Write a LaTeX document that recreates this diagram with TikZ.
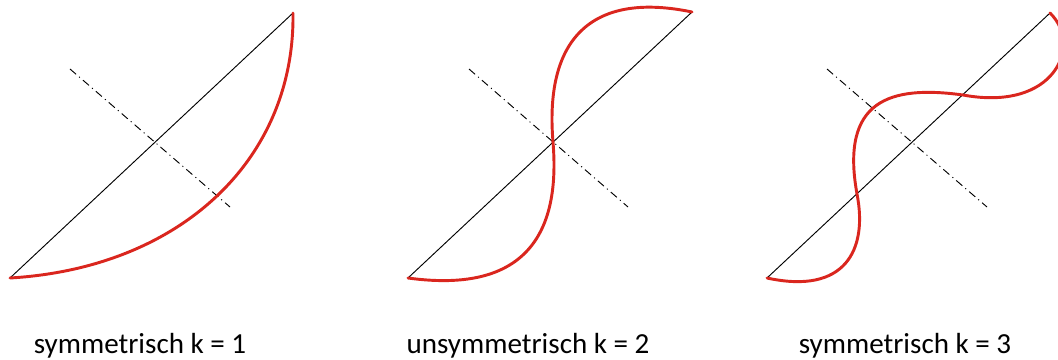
\documentclass[tikz,border=0pt]{standalone}
\usepackage{fontspec}
\setmainfont{Carlito}
\definecolor{curvered}{RGB}{218,38,30}
\begin{document}
\begin{tikzpicture}[x=0.75pt,y=-0.75pt,
  chord/.style={black,line width=0.7pt},
  axisline/.style={black,line width=0.7pt,dash pattern=on 6pt off 3pt on 0.8pt off 3pt},
  redcurve/.style={curvered,line width=2.2pt,line cap=round,line join=round},
  caption/.style={anchor=base,inner sep=0pt,font=\fontsize{21.8}{26}\selectfont}]
\clip (0,0) rectangle (1058,360);
% panel 1
\coordinate (a1) at (10,278); \coordinate (b1) at (293,13);
\coordinate (p1) at (70,69);  \coordinate (q1) at (230,207);
\draw[chord] (a1) -- (b1);
\draw[axisline] (p1) -- (q1);
\draw[redcurve] (a1) .. controls (180,268) and (295,160) .. (b1);
% panel 2
\coordinate (a2) at (408,278); \coordinate (b2) at (692,12);
\coordinate (p2) at (469,69);  \coordinate (q2) at (628,207);
\coordinate (m2) at (553,142);
\draw[chord] (a2) -- (b2);
\draw[axisline] (p2) -- (q2);
\draw[redcurve] (a2) .. controls (510,292) and (562,250) .. (m2)
               .. controls (544,34) and (596,-8) .. (b2);
% panel 3
\coordinate (a3) at (767,278); \coordinate (b3) at (1050,13);
\coordinate (p3) at (827,69);  \coordinate (q3) at (987,207);
\coordinate (c3) at (857,194); \coordinate (d3) at (963,95);
\draw[chord] (a3) -- (b3);
\draw[axisline] (p3) -- (q3);
\draw[redcurve] (a3) .. controls (845,295) and (868,250) .. (c3)
               .. controls (840,100) and (890,85) .. (d3)
               .. controls (1055,112) and (1083,45) .. (b3);
% captions
\node[caption] (t1) at (140,353) {symmetrisch k = 1};
\node[caption] (t2) at (528,353) {unsymmetrisch k = 2};
\node[caption] (t3) at (905,353) {symmetrisch k = 3};
\end{tikzpicture}
\end{document}
